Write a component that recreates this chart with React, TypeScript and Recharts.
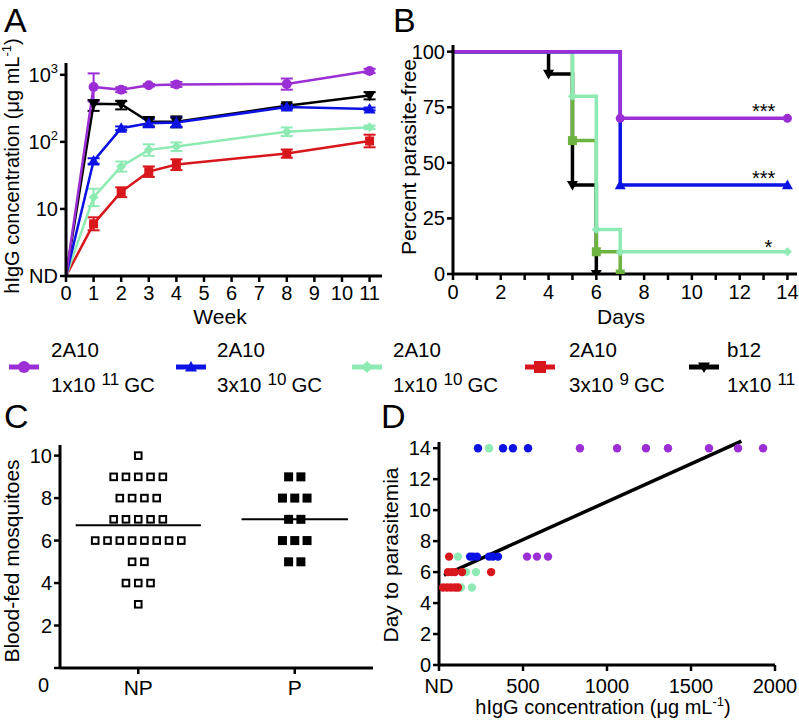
import React from 'react';
import {
  LineChart,
  Line,
  ComposedChart,
  ScatterChart,
  Scatter,
  XAxis,
  YAxis,
  ErrorBar,
  ReferenceLine,
} from 'recharts';

const FONT = "'Liberation Sans', Arial, Helvetica, sans-serif";

const PURPLE = '#9b2fd5';
const BLUE = '#0b12e3';
const MINT = '#8eeab3';
const RED = '#d8171d';
const OLIVE = '#6db33f';
const INK = '#000';

// legend text
const groupNames = ['2A10', '2A10', '2A10', '2A10', 'b12'];
const groupDoses = ['1x10', '3x10', '1x10', '3x10', '1x10'];
const groupDoseExp = ['11', '10', '10', '9', '11'];
const groupUnits = ['GC', 'GC', 'GC', 'GC', ''];

// A: serum hIgG by week (ND sits at 1 on the log axis)
const weeks = [0, 1, 2, 3, 4, 8, 11];
const weekTicks = [0, 1, 2, 3, 4, 5, 6, 7, 8, 9, 10, 11];
const concTicks = [1, 10, 100, 1000];
const igg1e11 = [1, 660, 600, 700, 720, 730, 1140];
const igg1e11Err = [null, [260, 390], [50, 50], [30, 30], [60, 60], [130, 150], [80, 90]];
const igg3e10 = [1, 52, 160, 190, 195, 330, 310];
const igg3e10Err = [null, [5, 5], [10, 10], [25, 30], [30, 35], [25, 25], [15, 15]];
const igg1e10 = [1, 15, 43, 76, 85, 142, 165];
const igg1e10Err = [null, [4, 5], [7, 8], [14, 16], [12, 13], [20, 22], [10, 10]];
const igg3e9 = [1, 6, 18, 36, 46, 67, 103];
const igg3e9Err = [null, [1.2, 1.5], [3, 3], [6, 7], [8, 9], [9, 10], [20, 25]];
const iggB12 = [1, 370, 365, 200, 200, 345, 490];
const iggB12Err = [null, [80, 50], [60, 40], [30, 35], [35, 40], [25, 25], [60, 60]];

// B: Kaplan-Meier, percent parasite-free
const dayTicks = [0, 1, 2, 3, 4, 5, 6, 7, 8, 9, 10, 11, 12, 13, 14];
const pctTicks = [0, 25, 50, 75, 100];
const kmDays1e11 = [0, 7, 14];
const kmPct1e11 = [100, 70, 70];
const kmDays3e10 = [0, 7, 14];
const kmPct3e10 = [100, 40, 40];
const kmDays1e10 = [0, 5, 6, 7, 14];
const kmPct1e10 = [100, 80, 20, 10, 10];
const kmDays3e9 = [0, 5, 6, 7];
const kmPct3e9 = [100, 60, 10, 0];
const kmDaysB12 = [0, 4, 5, 6];
const kmPctB12 = [100, 90, 40, 0];
const sigLabels = ['***', '***', '*'];
const sigDays = [13, 13, 13.2];
const sigPct = [75, 45, 14];

// C: blood-fed mosquitoes per mouse
const fedGroups = ['NP', 'P'];
const fedTicks = [0, 2, 4, 6, 8, 10];
const fedNP = [10, 9, 9, 9, 9, 9, 8, 8, 8, 8, 7, 7, 7, 7, 7, 6, 6, 6, 6, 6, 6, 6, 6, 5, 5, 4, 4, 4, 3];
const fedP = [9, 9, 8, 8, 8, 7, 7, 6, 6, 6, 5, 5];

// D: day to parasitemia vs hIgG (0 = ND)
const paraDayTicks = [0, 2, 4, 6, 8, 10, 12, 14];
const paraConcTicks = [0, 500, 1000, 1500, 2000];
const dConc1e11 = [839, 1060, 1232, 1363, 1607, 1780, 1929, 524, 583, 649];
const dDay1e11 = [14, 14, 14, 14, 14, 14, 14, 7, 7, 7];
const dConc3e10 = [232, 381, 440, 530, 185, 202, 226, 298, 321, 351];
const dDay3e10 = [14, 14, 14, 14, 7, 7, 7, 7, 7, 7];
const dConc1e10 = [298, 113, 161, 220, 131, 196];
const dDay1e10 = [14, 7, 6, 6, 5, 5];
const dConc3e9 = [60, 54, 77, 95, 137, 310, 24, 48, 71, 95, 113];
const dDay3e9 = [7, 6, 6, 6, 6, 6, 5, 5, 5, 5, 5];
const fitSlope = 0.00489;
const fitIntercept = 5.65;
const fitFrom = 30;
const fitTo = 1800;

const toXY = (xs: number[], ys: number[]) => xs.map((x, i) => ({ x, y: ys[i] }));

const panelA = weeks.map((week, i) => ({
  week,
  igg1e11: igg1e11[i],
  igg1e11Err: igg1e11Err[i],
  igg3e10: igg3e10[i],
  igg3e10Err: igg3e10Err[i],
  igg1e10: igg1e10[i],
  igg1e10Err: igg1e10Err[i],
  igg3e9: igg3e9[i],
  igg3e9Err: igg3e9Err[i],
  iggB12: iggB12[i],
  iggB12Err: iggB12Err[i],
}));

function swarm(values: number[], group: number) {
  const rows = new Map<number, number>();
  values.forEach((v) => rows.set(v, (rows.get(v) || 0) + 1));
  const out: { x: number; y: number; slot: number }[] = [];
  rows.forEach((n, v) => {
    for (let i = 0; i < n; i++) out.push({ x: group, y: v, slot: i - (n - 1) / 2 });
  });
  return out;
}
const mean = (v: number[]) => v.reduce((a, b) => a + b, 0) / v.length;

type Shape = 'circle' | 'square' | 'diamond' | 'up' | 'down';

function Marker({ shape, cx, cy, size, color }: { shape: Shape; cx: number; cy: number; size: number; color: string }) {
  const h = size / 2;
  if (shape === 'circle') return <circle cx={cx} cy={cy} r={h} fill={color} />;
  if (shape === 'square') return <rect x={cx - h} y={cy - h} width={size} height={size} fill={color} />;
  if (shape === 'diamond')
    return <polygon points={`${cx},${cy - h} ${cx + h},${cy} ${cx},${cy + h} ${cx - h},${cy}`} fill={color} />;
  if (shape === 'up')
    return <polygon points={`${cx},${cy - h} ${cx + h},${cy + h * 0.75} ${cx - h},${cy + h * 0.75}`} fill={color} />;
  return <polygon points={`${cx},${cy + h} ${cx + h},${cy - h * 0.75} ${cx - h},${cy - h * 0.75}`} fill={color} />;
}

const markerDot = (shape: Shape, color: string, size: number) => (p: any) => {
  if (p.index === 0 || p.cx == null) return <g key={`n${p.index}`} />;
  return (
    <g key={`m${p.index}`}>
      <Marker shape={shape} cx={p.cx} cy={p.cy} size={size} color={color} />
    </g>
  );
};

const axisLine = { stroke: INK, strokeWidth: 3 };
const tickLine = { stroke: INK, strokeWidth: 2.5 };
const txt = { fill: INK, fontFamily: FONT };

const yTick = (fmt: (v: number) => string, size = 20) => (p: any) => (
  <text x={p.x} y={p.y} dy={7} textAnchor="end" fontSize={size} {...txt}>
    {fmt(p.payload.value)}
  </text>
);
const xTick = (fmt: (v: number) => string, dy: number, size = 20) => (p: any) => (
  <text x={p.x} y={p.y} dy={dy} textAnchor="middle" fontSize={size} {...txt}>
    {fmt(p.payload.value)}
  </text>
);

function LogTick(p: any) {
  const v = p.payload.value;
  const sup = v === 100 ? '2' : v === 1000 ? '3' : null;
  return (
    <text x={p.x} y={p.y} dy={7} textAnchor="end" fontSize={20} {...txt}>
      {v === 1 ? 'ND' : '10'}
      {sup && (
        <tspan fontSize={13} dy={-9}>
          {sup}
        </tspan>
      )}
    </text>
  );
}

const seriesA = [
  { key: 'iggB12', color: INK, shape: 'down' as Shape, size: 12 },
  { key: 'igg3e9', color: RED, shape: 'square' as Shape, size: 9 },
  { key: 'igg1e10', color: MINT, shape: 'diamond' as Shape, size: 10 },
  { key: 'igg3e10', color: BLUE, shape: 'up' as Shape, size: 12 },
  { key: 'igg1e11', color: PURPLE, shape: 'circle' as Shape, size: 10 },
];

function PanelA() {
  return (
    <LineChart width={400} height={330} data={panelA} margin={{ top: 63, right: 18, bottom: 0, left: 0 }}>
      <XAxis
        dataKey="week"
        type="number"
        domain={[0, 11.45]}
        allowDataOverflow
        ticks={weekTicks}
        interval={0}
        height={54}
        axisLine={axisLine}
        tickLine={tickLine}
        tickSize={6}
        tick={xTick((v) => String(v), 16)}
      />
      <YAxis
        type="number"
        scale="log"
        domain={[1, 1500]}
        allowDataOverflow
        ticks={concTicks}
        interval={0}
        width={66}
        axisLine={axisLine}
        tickLine={tickLine}
        tickSize={6}
        tick={(p: any) => <LogTick {...p} />}
      />
      {seriesA.map((s) => (
        <Line
          key={s.key}
          dataKey={s.key}
          stroke={s.color}
          strokeWidth={2.5}
          dot={markerDot(s.shape, s.color, s.size)}
          activeDot={false}
          isAnimationActive={false}
        >
          <ErrorBar dataKey={`${s.key}Err`} width={6} strokeWidth={2} stroke={s.color} isAnimationActive={false} />
        </Line>
      ))}
    </LineChart>
  );
}

const seriesB = [
  { data: toXY(kmDaysB12, kmPctB12), color: INK, shape: 'down' as Shape, size: 11 },
  { data: toXY(kmDays3e9, kmPct3e9), color: OLIVE, shape: 'square' as Shape, size: 9 },
  { data: toXY(kmDays1e10, kmPct1e10), color: MINT, shape: 'diamond' as Shape, size: 9 },
  { data: toXY(kmDays3e10, kmPct3e10), color: BLUE, shape: 'up' as Shape, size: 11 },
  { data: toXY(kmDays1e11, kmPct1e11), color: PURPLE, shape: 'circle' as Shape, size: 9 },
];

const sigData = sigDays.map((x, i) => ({ x, y: sigPct[i], label: sigLabels[i] }));

function PanelB() {
  return (
    <ComposedChart width={399} height={330} margin={{ top: 45, right: 2, bottom: 0, left: 0 }}>
      <XAxis
        dataKey="x"
        type="number"
        domain={[0, 14.4]}
        allowDataOverflow
        ticks={dayTicks}
        interval={0}
        height={56}
        axisLine={axisLine}
        tickLine={tickLine}
        tickSize={6}
        tick={(p: any) =>
          p.payload.value % 2 === 0 ? xTick((v) => String(v), 17)(p) : <g />
        }
      />
      <YAxis
        dataKey="y"
        type="number"
        domain={[0, 103]}
        allowDataOverflow
        ticks={pctTicks}
        interval={0}
        width={53}
        axisLine={axisLine}
        tickLine={tickLine}
        tickSize={6}
        tick={yTick((v) => String(v))}
      />
      {seriesB.map((s, i) => (
        <Line
          key={i}
          data={s.data}
          dataKey="y"
          type="stepAfter"
          stroke={s.color}
          strokeWidth={3.5}
          dot={markerDot(s.shape, s.color, s.size)}
          activeDot={false}
          isAnimationActive={false}
        />
      ))}
      <Scatter
        data={sigData}
        dataKey="y"
        isAnimationActive={false}
        shape={(p: any) => (
          <text x={p.cx} y={p.cy} dy={11} textAnchor="middle" fontSize={20} {...txt}>
            {p.payload.label}
          </text>
        )}
      />
    </ComposedChart>
  );
}

const fedData = [swarm(fedNP, 1), swarm(fedP, 2)];
const fedMeans = [mean(fedNP), mean(fedP)];
const fedHalf = [0.4, 0.34];

const swarmShape = (filled: boolean) => (p: any) => {
  const cx = p.cx + p.payload.slot * 12.3;
  if (filled) return <rect x={cx - 4.5} y={p.cy - 4.5} width={9} height={9} fill={INK} />;
  return <rect x={cx - 3.3} y={p.cy - 3.3} width={6.6} height={6.6} fill="#fff" stroke={INK} strokeWidth={2} />;
};

function PanelC() {
  return (
    <ScatterChart width={400} height={340} margin={{ top: 65, right: 27, bottom: 0, left: 0 }}>
      <XAxis
        dataKey="x"
        type="number"
        domain={[0.5, 2.5]}
        allowDataOverflow
        ticks={[1, 2]}
        interval={0}
        height={52}
        axisLine={axisLine}
        tickLine={tickLine}
        tickSize={6}
        tick={xTick((v) => fedGroups[v - 1], 19, 21)}
      />
      <YAxis
        dataKey="y"
        type="number"
        domain={[0, 10.5]}
        allowDataOverflow
        ticks={fedTicks}
        interval={0}
        width={60}
        axisLine={axisLine}
        tickLine={tickLine}
        tickSize={6}
        tick={(p: any) =>
          p.payload.value === 0 ? (
            <text x={p.x - 3} y={p.y} dy={24} textAnchor="end" fontSize={20} {...txt}>
              0
            </text>
          ) : (
            yTick((v) => String(v))(p)
          )
        }
      />
      <Scatter data={fedData[0]} isAnimationActive={false} shape={swarmShape(false)} />
      <Scatter data={fedData[1]} isAnimationActive={false} shape={swarmShape(true)} />
      {fedMeans.map((m, i) => (
        <ReferenceLine
          key={i}
          segment={[
            { x: i + 1 - fedHalf[i], y: m },
            { x: i + 1 + fedHalf[i], y: m },
          ]}
          stroke={INK}
          strokeWidth={2}
        />
      ))}
    </ScatterChart>
  );
}

const seriesD = [
  { data: toXY(dConc1e11, dDay1e11), color: PURPLE },
  { data: toXY(dConc3e10, dDay3e10), color: BLUE },
  { data: toXY(dConc1e10, dDay1e10), color: MINT },
  { data: toXY(dConc3e9, dDay3e9), color: RED },
];

function PanelD() {
  return (
    <ComposedChart width={399} height={340} margin={{ top: 62, right: 24, bottom: 0, left: 0 }}>
      <XAxis
        dataKey="x"
        type="number"
        domain={[0, 2000]}
        allowDataOverflow
        ticks={paraConcTicks}
        interval={0}
        height={55}
        axisLine={axisLine}
        tickLine={tickLine}
        tickSize={6}
        tick={xTick((v) => (v === 0 ? 'ND' : String(v)), 20)}
      />
      <YAxis
        dataKey="y"
        type="number"
        domain={[0, 14.4]}
        allowDataOverflow
        ticks={paraDayTicks}
        interval={0}
        width={39}
        axisLine={axisLine}
        tickLine={tickLine}
        tickSize={6}
        tick={yTick((v) => String(v))}
      />
      {seriesD.map((s, i) => (
        <Scatter
          key={i}
          data={s.data}
          isAnimationActive={false}
          shape={(p: any) => <circle cx={p.cx} cy={p.cy} r={4.2} fill={s.color} />}
        />
      ))}
      <ReferenceLine
        segment={[
          { x: fitFrom, y: fitIntercept + fitSlope * fitFrom },
          { x: fitTo, y: fitIntercept + fitSlope * fitTo },
        ]}
        ifOverflow="visible"
        stroke={INK}
        strokeWidth={3.5}
      />
    </ComposedChart>
  );
}

const legendColors = [PURPLE, BLUE, MINT, RED, INK];
const legendShapes: Shape[] = ['circle', 'up', 'diamond', 'square', 'down'];
const legendX = [9, 176, 352, 525, 689];
const legendTextX = [51, 217, 393, 569, 727];

function Overlay() {
  const t = { fill: INK, fontFamily: FONT };
  return (
    <svg width={799} height={720} style={{ position: 'absolute', left: 0, top: 0, pointerEvents: 'none' }}>
      <g fontSize={34} {...t}>
        <text x={4} y={32}>A</text>
        <text x={393} y={32}>B</text>
        <text x={4} y={428}>C</text>
        <text x={381} y={428}>D</text>
      </g>
      <g fontSize={20} {...t} textAnchor="middle">
        <text transform="translate(19,166) rotate(-90)">
          hIgG concentration (μg mL
          <tspan fontSize={13} dy={-8}>
            -1
          </tspan>
          <tspan dy={8}>)</tspan>
        </text>
        <text x={220} y={324} fontSize={21}>
          Week
        </text>
        <text transform="translate(416,157) rotate(-90)" fontSize={21}>
          Percent parasite-free
        </text>
        <text x={621} y={324} fontSize={21}>
          Days
        </text>
        <text transform="translate(19,561) rotate(-90)" fontSize={21}>
          Blood-fed mosquitoes
        </text>
        <text transform="translate(398,555) rotate(-90)" fontSize={21}>
          Day to parasitemia
        </text>
        <text x={603} y={714}>
          hIgG concentration (μg mL
          <tspan fontSize={13} dy={-8}>
            -1
          </tspan>
          <tspan dy={8}>)</tspan>
        </text>
      </g>
      {legendColors.map((c, i) => (
        <g key={i}>
          <line x1={legendX[i]} x2={legendX[i] + 30} y1={367} y2={367} stroke={c} strokeWidth={5} />
          <Marker shape={legendShapes[i]} cx={legendX[i] + 15} cy={367} size={12} color={c} />
          <text x={legendTextX[i]} y={357} fontSize={20.5} {...t}>
            {groupNames[i]}
          </text>
          <text x={legendTextX[i]} y={392} fontSize={20.5} {...t}>
            {groupDoses[i]}
            <tspan dx={6} dy={-7} fontSize={17}>
              {groupDoseExp[i]}
            </tspan>
            {groupUnits[i] && (
              <tspan dx={5} dy={7}>
                {groupUnits[i]}
              </tspan>
            )}
          </text>
        </g>
      ))}
    </svg>
  );
}

export default function App() {
  return (
    <div
      style={{
        position: 'absolute',
        left: 0,
        top: 0,
        width: 799,
        height: 720,
        background: '#fff',
        fontFamily: FONT,
      }}
    >
      <div style={{ position: 'absolute', left: 0, top: 0 }}>
        <PanelA />
      </div>
      <div style={{ position: 'absolute', left: 400, top: 0 }}>
        <PanelB />
      </div>
      <div style={{ position: 'absolute', left: 0, top: 380 }}>
        <PanelC />
      </div>
      <div style={{ position: 'absolute', left: 400, top: 380 }}>
        <PanelD />
      </div>
      <Overlay />
    </div>
  );
}
